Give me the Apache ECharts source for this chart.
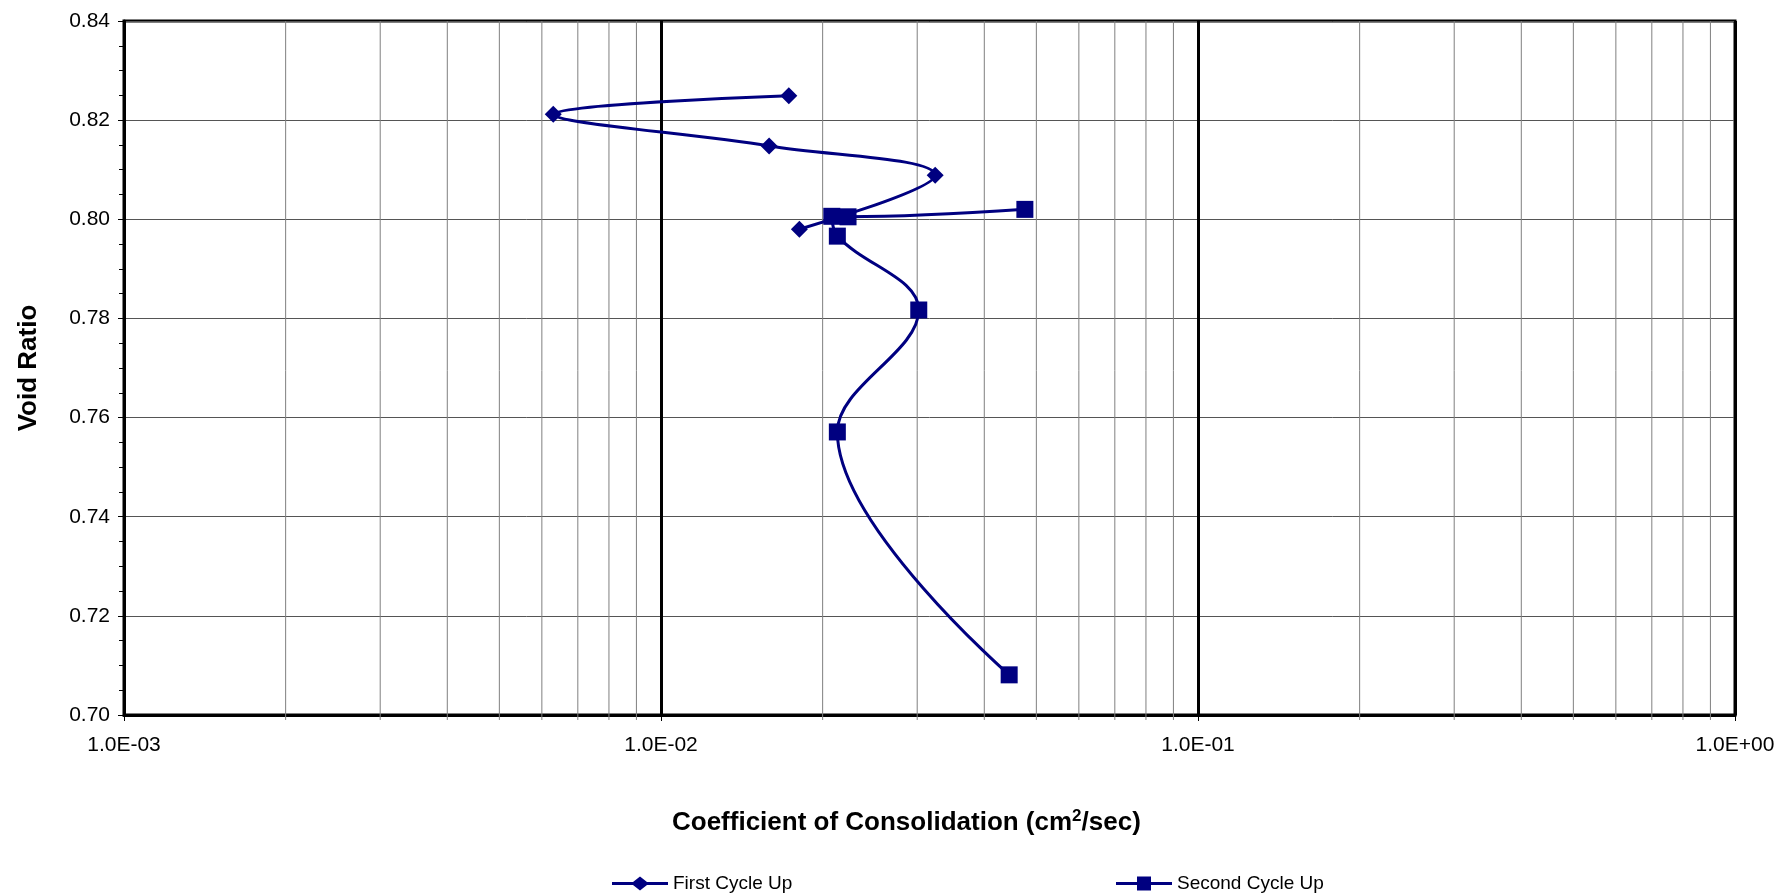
<!DOCTYPE html>
<html>
<head>
<meta charset="utf-8">
<script src="https://cdn.jsdelivr.net/npm/echarts@6/dist/echarts.min.js"></script>
<style>html,body{margin:0;padding:0;background:#fff;}#c{width:1780px;height:894px;}</style>
</head>
<body>
<div id="c"></div>
<script>
// Data
const firstCycleX = [0.0173, 0.0063, 0.0159, 0.0324, 0.0181];
const firstCycleY = [0.8249, 0.8212, 0.8148, 0.8089, 0.7980];
const secondCycleX = [0.0476, 0.0223, 0.0208, 0.0213, 0.0302, 0.0213, 0.0445];
const secondCycleY = [0.8020, 0.8005, 0.8006, 0.7966, 0.7817, 0.7571, 0.7081];
const xTickLabels = ['1.0E-03', '1.0E-02', '1.0E-01', '1.0E+00'];
const xMinorGrid = [0.002,0.003,0.004,0.005,0.006,0.007,0.008,0.009,
                    0.02,0.03,0.04,0.05,0.06,0.07,0.08,0.09,
                    0.2,0.3,0.4,0.5,0.6,0.7,0.8,0.9];
const yRange = [0.70, 0.84];
const seriesNames = ['First Cycle Up', 'Second Cycle Up'];

const navy = '#000080';
const font = 'Liberation Sans, Arial, sans-serif';
const diamondIcon = 'path://M0,5.5 L21,5.5 L28,0 L35,5.5 L56,5.5 L56,8.5 L35,8.5 L28,14 L21,8.5 L0,8.5 Z';
const squareIcon = 'path://M0,5.5 L21,5.5 L21,0 L35,0 L35,5.5 L56,5.5 L56,8.5 L35,8.5 L35,14 L21,14 L21,8.5 L0,8.5 Z';

// gridline helper series (minor log gridlines, extending slightly below axis as tick marks)
const gridSeries = xMinorGrid.map(v => ({
  type: 'line', silent: true, z: 1, clip: false, symbol: 'none',
  data: [[v, yRange[0] - 0.001], [v, yRange[1]]],
  lineStyle: { color: '#808080', width: 1 },
  emphasis: { disabled: true }, tooltip: { show: false }
}));

const chart = echarts.init(document.getElementById('c'));
chart.setOption({
  animation: false,
  backgroundColor: '#fff',
  textStyle: { fontFamily: font },
  title: {
    text: '{a|Coefficient of Consolidation (cm}{s|2}{a|/sec)}',
    left: 667, top: 803,
    textStyle: {
      rich: {
        a: { fontFamily: font, fontSize: 26, fontWeight: 'bold', color: '#000' },
        s: { fontFamily: font, fontSize: 17, fontWeight: 'bold', color: '#000', verticalAlign: 'top', padding: [0,0,12,0] }
      }
    }
  },
  grid: { left: 124, top: 21, right: 45, bottom: 179, show: true, borderColor: '#000', borderWidth: 3, containLabel: false },
  legend: [
    { data: [{ name: seriesNames[0], icon: diamondIcon }], left: 607, top: 869, itemWidth: 56, itemHeight: 14, itemGap: 0,
      textStyle: { fontSize: 19, color: '#000', fontFamily: font } },
    { data: [{ name: seriesNames[1], icon: squareIcon }], left: 1111, top: 869, itemWidth: 56, itemHeight: 14, itemGap: 0,
      textStyle: { fontSize: 19, color: '#000', fontFamily: font } }
  ],
  xAxis: {
    type: 'log', logBase: 10, min: 0.001, max: 1,
    axisLine: { show: true, lineStyle: { color: '#000', width: 3 } },
    axisTick: { show: true, length: 6, lineStyle: { color: '#000', width: 1 } },
    axisLabel: { margin: 20, fontSize: 21, color: '#000', fontFamily: font,
      formatter: function (v) { const e = Math.round(Math.log10(v)); return xTickLabels[e + 3]; } },
    splitLine: { show: true, lineStyle: { color: '#000', width: 3 } }
  },
  yAxis: {
    type: 'value', min: yRange[0], max: yRange[1], interval: 0.02,
    name: 'Void Ratio', nameLocation: 'middle', nameGap: 82,
    nameTextStyle: { fontSize: 26, fontWeight: 'bold', color: '#000', fontFamily: font },
    axisLine: { show: true, lineStyle: { color: '#000', width: 3 } },
    axisTick: { show: true, length: 6, lineStyle: { color: '#000', width: 1 } },
    minorTick: { show: true, splitNumber: 4, length: 5, lineStyle: { color: '#000', width: 1 } },
    axisLabel: { margin: 14, fontSize: 21, color: '#000', fontFamily: font, formatter: v => v.toFixed(2) },
    splitLine: { show: true, lineStyle: { color: '#555', width: 1 } }
  },
  series: gridSeries.concat([
    {
      name: seriesNames[0], type: 'line', smooth: 0.38, z: 3,
      data: firstCycleX.map((x, i) => [x, firstCycleY[i]]),
      symbol: 'diamond', symbolSize: 17,
      itemStyle: { color: navy },
      lineStyle: { color: navy, width: 3 }
    },
    {
      name: seriesNames[1], type: 'line', smooth: 0.38, z: 4,
      data: secondCycleX.map((x, i) => [x, secondCycleY[i]]),
      symbol: 'rect', symbolSize: 17,
      itemStyle: { color: navy },
      lineStyle: { color: navy, width: 3 }
    }
  ])
});
</script>
</body>
</html>
